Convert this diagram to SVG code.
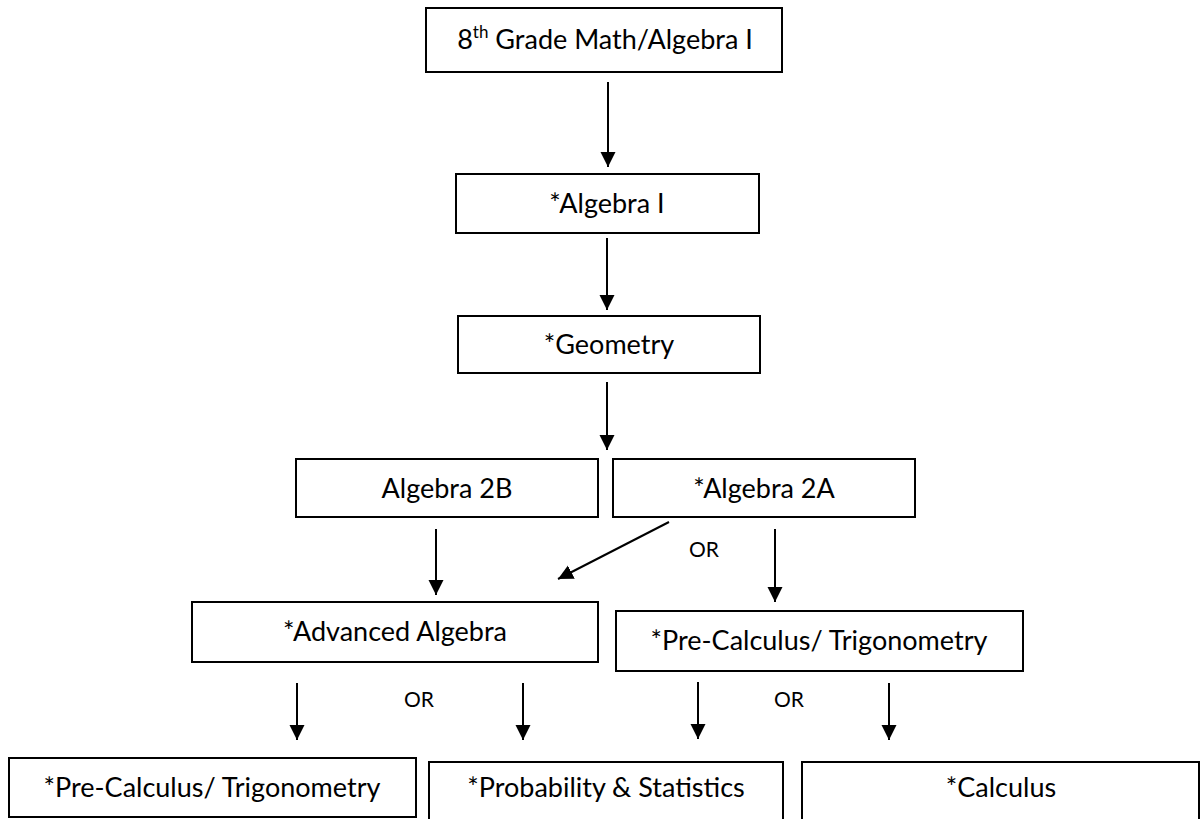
<svg xmlns="http://www.w3.org/2000/svg" width="1201" height="819" viewBox="0 0 1201 819">
<style>
.box{fill:#fff;stroke:#000;stroke-width:2}
.t{font-family:Lato,"Liberation Sans",sans-serif;font-size:27px;fill:#000;text-anchor:middle}
.or{font-family:Lato,"Liberation Sans",sans-serif;font-size:21px;fill:#000;text-anchor:middle}
.c{stroke:#000;stroke-width:2;fill:none;marker-end:url(#ah)}
</style>
<defs>
<marker id="ah" markerUnits="userSpaceOnUse" markerWidth="16" markerHeight="16" refX="15" refY="7.5" orient="auto">
<path d="M0,0 L15,7.5 L0,15 z" fill="#000"/>
</marker>
</defs>
<rect width="1201" height="819" fill="#fff"/>
<g id="connectors">
<line class="c" x1="608" y1="82" x2="608" y2="167"/>
<line class="c" x1="607" y1="238" x2="607" y2="310"/>
<line class="c" x1="607" y1="382" x2="607" y2="450"/>
<line class="c" x1="436" y1="529" x2="436" y2="595"/>
<line class="c" x1="669" y1="522" x2="558" y2="579"/>
<line class="c" x1="775" y1="529" x2="775" y2="602"/>
<line class="c" x1="297" y1="683" x2="297" y2="740"/>
<line class="c" x1="523" y1="683" x2="523" y2="740"/>
<line class="c" x1="698" y1="682" x2="698" y2="739"/>
<line class="c" x1="889" y1="683" x2="889" y2="740"/>
<text class="or" x="704" y="557">OR</text>
<text class="or" x="419" y="707">OR</text>
<text class="or" x="789" y="707">OR</text>
</g>
<g id="n-8th"><rect class="box" x="426" y="8" width="356" height="64"/><text class="t" x="605" y="49">8<tspan font-size="17" dy="-11">th</tspan><tspan dy="11"> Grade Math/Algebra I</tspan></text></g>
<g id="n-alg1"><rect class="box" x="456" y="174" width="303" height="59"/><text class="t" x="607" y="213">*Algebra I</text></g>
<g id="n-geo"><rect class="box" x="458" y="316" width="302" height="57"/><text class="t" x="609" y="354">*Geometry</text></g>
<g id="n-alg2b"><rect class="box" x="296" y="459" width="302" height="58"/><text class="t" x="447" y="498">Algebra 2B</text></g>
<g id="n-alg2a"><rect class="box" x="613" y="459" width="302" height="58"/><text class="t" x="764" y="498">*Algebra 2A</text></g>
<g id="n-adv"><rect class="box" x="192" y="602" width="406" height="60"/><text class="t" x="395" y="641">*Advanced Algebra</text></g>
<g id="n-precalc1"><rect class="box" x="616" y="611" width="407" height="60"/><text class="t" x="819" y="650">*Pre-Calculus/ Trigonometry</text></g>
<g id="n-precalc2"><rect class="box" x="9" y="758" width="407" height="59"/><text class="t" x="212" y="797">*Pre-Calculus/ Trigonometry</text></g>
<g id="n-prob"><rect class="box" x="429" y="762" width="354" height="60"/><text class="t" x="606" y="797">*Probability &amp; Statistics</text></g>
<g id="n-calc"><rect class="box" x="802" y="762" width="397" height="60"/><text class="t" x="1001" y="797">*Calculus</text></g>
</svg>
